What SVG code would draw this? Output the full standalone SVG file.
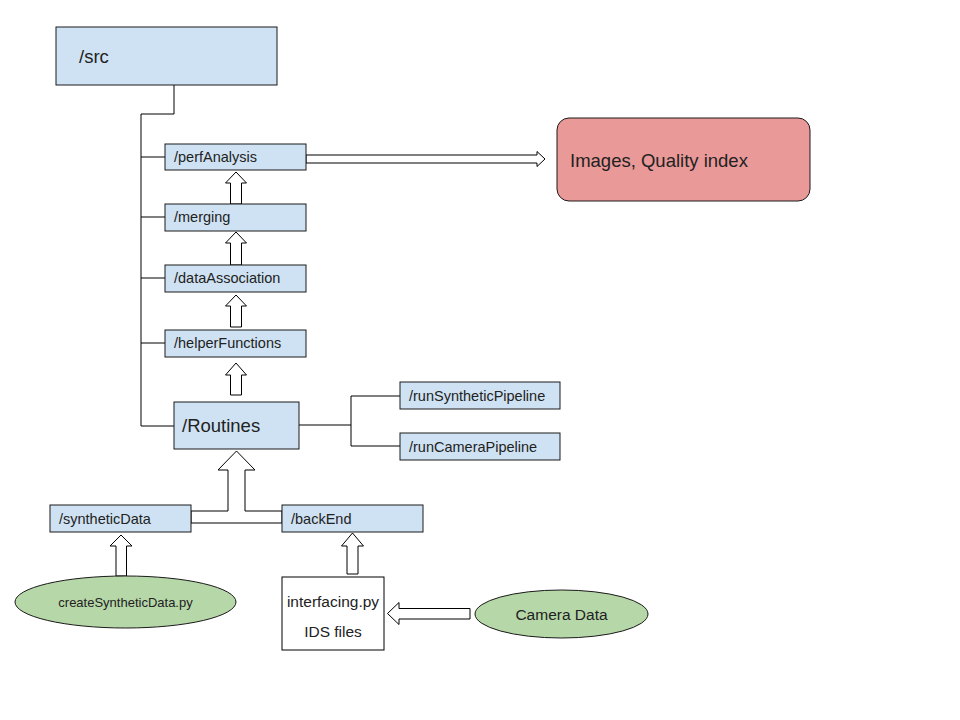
<svg xmlns="http://www.w3.org/2000/svg" width="960" height="720" viewBox="0 0 960 720">
<style>
.box{fill:#cfe2f3;stroke:#1a1a1a;stroke-width:1}
.t{font-family:"Liberation Sans",Arial,sans-serif;fill:#222}
.s{font-size:14.5px}
.l{font-size:18.5px}
.line{fill:none;stroke:#000;stroke-width:1}
.ba{fill:#fff;stroke:#000;stroke-width:1;stroke-linejoin:miter}
</style>
<rect width="960" height="720" fill="#fff"/>
<g id="connectors">
<path class="line" d="M174,85 V114 H141 V426 H174 M141,157 H165 M141,217 H165 M141,278 H165 M141,343 H165"/>
<path class="line" d="M299,425 H351 M351,396 V446 M351,396 H400 M351,446 H400"/>
<path class="ba" d="M306,155 H537 V151.5 L545,159 L537,166.5 V163 H306 Z"/>
<path class="ba" d="M230.5,204 V183 H225.5 L236,172 L246.5,183 H241.5 V204 Z"/>
<path class="ba" d="M230.5,265 V243 H225.5 L236,232 L246.5,243 H241.5 V265 Z"/>
<path class="ba" d="M230.5,327 V306 H225.5 L236,295 L246.5,306 H241.5 V327 Z"/>
<path class="ba" d="M230.5,395 V375 H225.5 L236,363 L246.5,375 H241.5 V395 Z"/>
<path class="ba" d="M191,511 H228 V470 H218 L236.5,451 L255,470 H245 V511 H282 V523 H191 Z"/>
<path class="ba" d="M116,576 V546 H110 L121,535 L132,546 H126.5 V576 Z"/>
<path class="ba" d="M347,574 V546 H341.5 L352.5,533 L363.5,546 H358 V574 Z"/>
<path class="ba" d="M470,608.5 H399 V602.5 L387.5,613.5 L399,624.5 V619 H470 Z"/>
</g>
<g id="src"><rect class="box" x="56" y="27" width="221" height="58"/><text class="t l" x="79" y="63">/src</text></g>
<g id="perfAnalysis"><rect class="box" x="165" y="144" width="141" height="26"/><text class="t s" x="174" y="162">/perfAnalysis</text></g>
<g id="merging"><rect class="box" x="165" y="204" width="141" height="27"/><text class="t s" x="174" y="222">/merging</text></g>
<g id="dataAssociation"><rect class="box" x="165" y="265" width="141" height="27"/><text class="t s" x="174" y="283">/dataAssociation</text></g>
<g id="helperFunctions"><rect class="box" x="165" y="330" width="141" height="27"/><text class="t s" x="174" y="348">/helperFunctions</text></g>
<g id="Routines"><rect class="box" x="174" y="402" width="125" height="47"/><text class="t l" x="182" y="432">/Routines</text></g>
<g id="runSyntheticPipeline"><rect class="box" x="400" y="382" width="160" height="27"/><text class="t s" x="409" y="401">/runSyntheticPipeline</text></g>
<g id="runCameraPipeline"><rect class="box" x="400" y="433" width="160" height="27"/><text class="t s" x="409" y="452">/runCameraPipeline</text></g>
<g id="imagesQuality"><rect x="557" y="118" width="253" height="83" rx="12" fill="#ea9999" stroke="#1a1a1a"/><text class="t l" x="570" y="167">Images, Quality index</text></g>
<g id="syntheticData"><rect class="box" x="50" y="505" width="141" height="27"/><text class="t s" x="59" y="524">/syntheticData</text></g>
<g id="backEnd"><rect class="box" x="282" y="505" width="141" height="27"/><text class="t s" x="291" y="524">/backEnd</text></g>
<g id="createSyntheticData"><ellipse cx="125.5" cy="602" rx="110.5" ry="26" fill="#b6d7a8" stroke="#1a1a1a"/><text class="t" font-size="13" x="125.5" y="606.5" text-anchor="middle">createSyntheticData.py</text></g>
<g id="interfacing"><rect x="282" y="577" width="102" height="73" fill="#fff" stroke="#000"/><text class="t" font-size="15.5" x="333" y="607" text-anchor="middle">interfacing.py</text><text class="t" font-size="15.5" x="333" y="637" text-anchor="middle">IDS files</text></g>
<g id="cameraData"><ellipse cx="561.5" cy="614" rx="86.5" ry="24" fill="#b6d7a8" stroke="#1a1a1a"/><text class="t" font-size="15.5" x="561.5" y="619.5" text-anchor="middle">Camera Data</text></g>
</svg>
